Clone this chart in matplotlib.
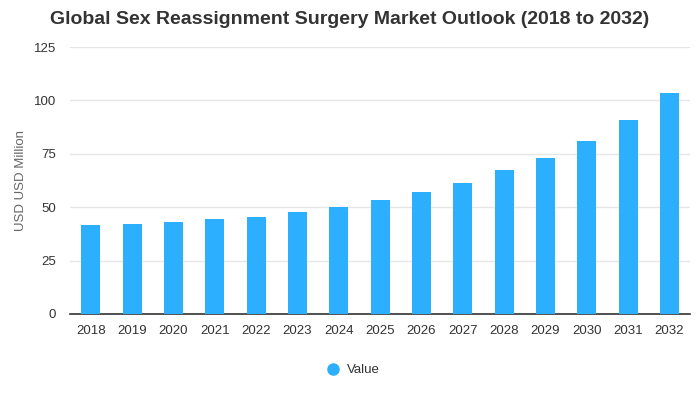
import matplotlib
matplotlib.use("Agg")
import matplotlib.pyplot as plt
from matplotlib.lines import Line2D

years = ["2018", "2019", "2020", "2021", "2022", "2023", "2024", "2025",
         "2026", "2027", "2028", "2029", "2030", "2031", "2032"]
values = [41.7, 42.2, 43.1, 44.5, 45.4, 47.8, 50.2, 53.4,
          57.2, 61.4, 67.2, 73.1, 81.1, 90.9, 103.6]
yticks = [0, 25, 50, 75, 100, 125]

plt.rcParams['font.family'] = ['Liberation Sans', 'DejaVu Sans']

fig = plt.figure(figsize=(7, 4), dpi=100)
ax = fig.add_axes([0.1, 0.215, 0.886, 0.6675])
color = "#2CAFFE"
x = list(range(len(years)))
ax.bar(x, values, width=0.46, color=color, zorder=3)
ax.set_xlim(-0.5, len(years) - 0.5)
ax.set_ylim(0, 125)
ax.set_yticks(yticks)
ax.set_xticks(x)
ax.set_xticklabels(years)
ax.grid(axis='y', color='#e6e6e6', linewidth=1, zorder=0)
for s in ['top', 'right', 'left']:
    ax.spines[s].set_visible(False)
ax.spines['bottom'].set_color('#333333')
ax.spines['bottom'].set_linewidth(1.2)
ax.tick_params(axis='y', length=0, labelsize=9.5, labelcolor='#333333', pad=10)
ax.tick_params(axis='x', length=0, labelsize=9.5, labelcolor='#333333', pad=8)
ax.set_ylabel("USD USD Million", color='#666666', fontsize=9.5, labelpad=5)
fig.text(0.5, 0.952, "Global Sex Reassignment Surgery Market Outlook (2018 to 2032)",
         ha='center', va='center', fontsize=14, fontweight='bold', color='#333333')
handle = Line2D([], [], marker='o', linestyle='none', markersize=8,
                markerfacecolor=color, markeredgecolor=color)
fig.legend([handle], ["Value"], loc='center', bbox_to_anchor=(0.5, 0.075),
           frameon=False, fontsize=9.5, handletextpad=0.1, labelcolor='#333333')
fig.savefig("out.png", dpi=100)
